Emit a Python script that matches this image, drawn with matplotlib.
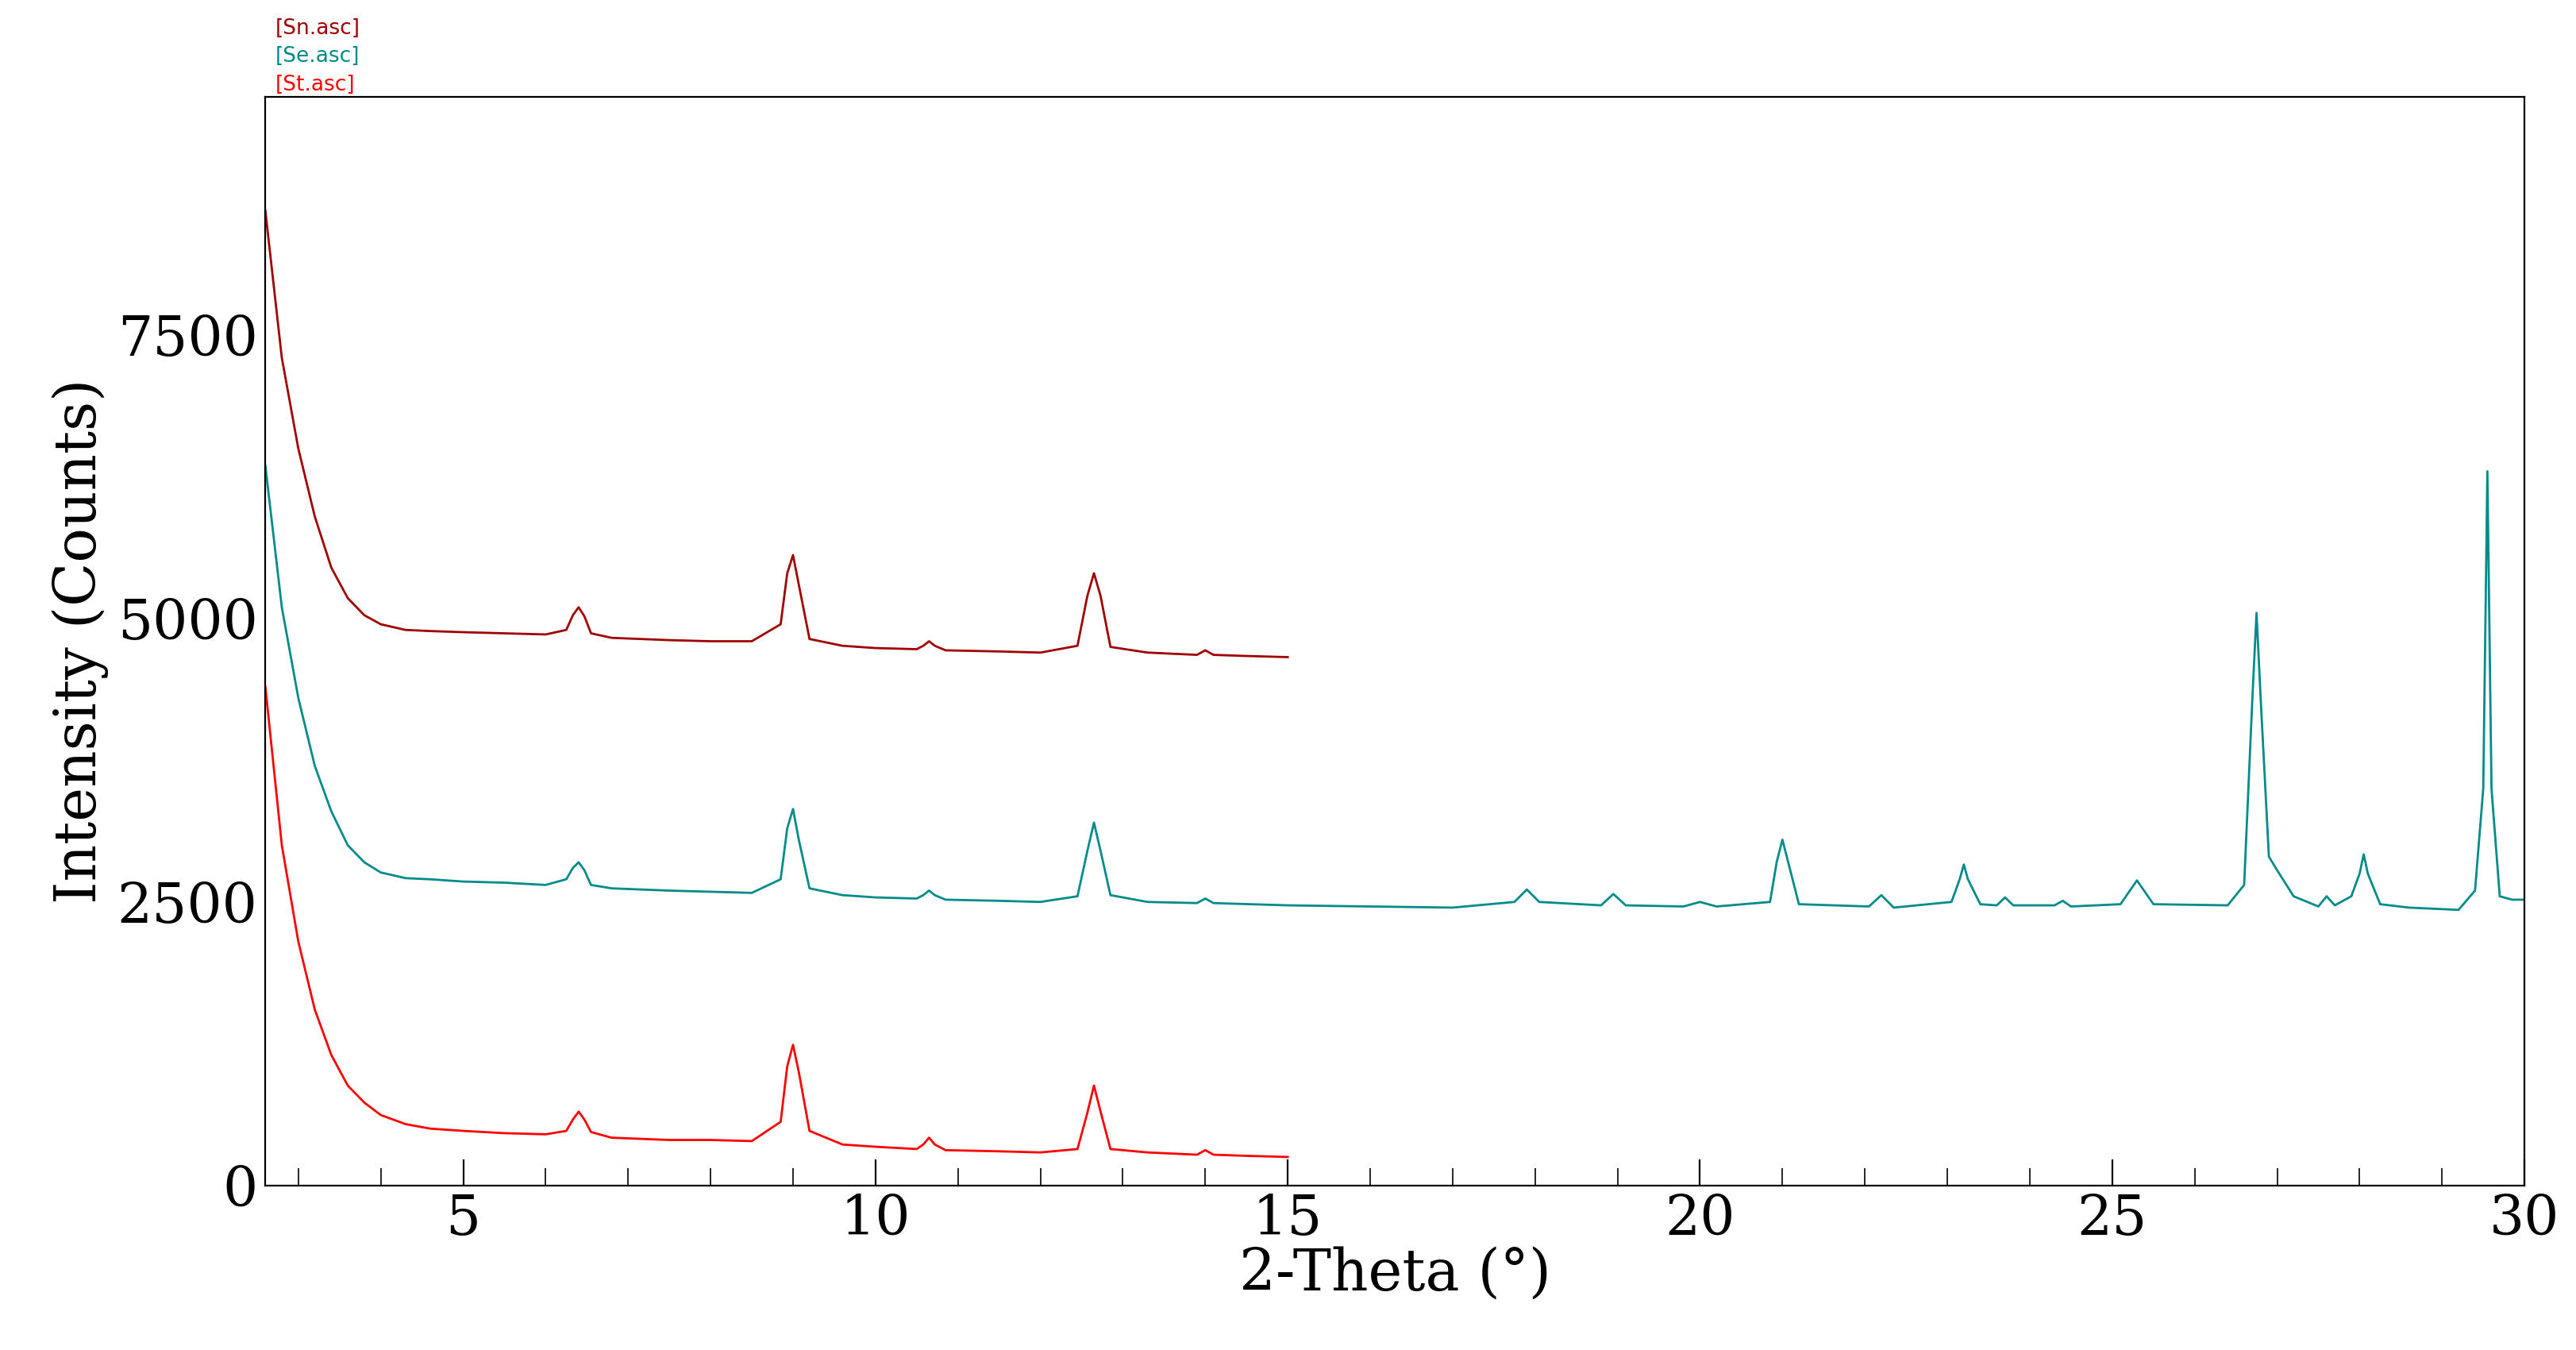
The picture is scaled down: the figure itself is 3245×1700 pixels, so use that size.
import matplotlib
matplotlib.use("Agg")
import matplotlib.pyplot as plt

# St.asc (red)
st_x = [2.6,2.8,3.0,3.2,3.4,3.6,3.8,4.0,4.3,4.6,5.0,5.5,6.0,6.25,6.33,6.4,6.47,6.55,6.8,7.5,8.0,8.5,8.85,8.93,9.0,9.07,9.2,9.6,10.0,10.5,10.58,10.65,10.72,10.85,11.5,12.0,12.45,12.57,12.65,12.73,12.85,13.3,13.9,14.0,14.1,14.5,15.0]
st_y = [4400,3000,2150,1550,1150,880,730,620,540,500,480,460,450,480,580,650,580,470,420,400,400,390,560,1050,1240,1000,480,360,340,320,360,420,360,310,300,290,320,640,880,650,320,290,270,310,270,260,250]

# Se.asc (teal)
se_x = [2.6,2.8,3.0,3.2,3.4,3.6,3.8,4.0,4.3,4.6,5.0,5.5,6.0,6.25,6.33,6.4,6.47,6.55,6.8,7.5,8.0,8.5,8.85,8.93,9.0,9.07,9.2,9.6,10.0,10.5,10.58,10.65,10.72,10.85,11.5,12.0,12.45,12.57,12.65,12.73,12.85,13.3,13.9,14.0,14.1,15.0,16.0,17.0,17.75,17.9,18.05,18.8,18.95,19.1,19.8,20.0,20.2,20.85,20.93,21.0,21.07,21.2,22.05,22.2,22.35,23.05,23.15,23.2,23.25,23.4,23.6,23.7,23.8,24.3,24.4,24.5,25.1,25.3,25.5,26.4,26.6,26.7,26.75,26.8,26.9,27.0,27.2,27.5,27.6,27.7,27.9,28.0,28.05,28.1,28.25,28.6,29.2,29.4,29.5,29.55,29.6,29.7,29.85,30.1]
se_y = [6350,5100,4300,3700,3300,3000,2850,2760,2710,2700,2680,2670,2650,2700,2800,2850,2780,2650,2620,2600,2590,2580,2700,3150,3320,3050,2620,2560,2540,2530,2560,2600,2560,2520,2510,2500,2550,2950,3200,2950,2560,2500,2490,2530,2490,2470,2460,2450,2500,2610,2500,2470,2570,2470,2460,2500,2460,2500,2850,3050,2850,2480,2460,2560,2450,2500,2700,2830,2700,2480,2470,2540,2470,2470,2510,2460,2480,2690,2480,2470,2650,4300,5050,4300,2900,2780,2550,2460,2550,2470,2550,2750,2920,2750,2480,2450,2430,2600,3500,6300,3500,2550,2520,2520]

# Sn.asc (dark red)
sn_x = [2.6,2.8,3.0,3.2,3.4,3.6,3.8,4.0,4.3,4.6,5.0,5.5,6.0,6.25,6.33,6.4,6.47,6.55,6.8,7.5,8.0,8.5,8.85,8.93,9.0,9.07,9.2,9.6,10.0,10.5,10.58,10.65,10.72,10.85,11.5,12.0,12.45,12.57,12.65,12.73,12.85,13.3,13.9,14.0,14.1,14.5,15.0]
sn_y = [8600,7300,6500,5900,5450,5180,5030,4950,4900,4890,4880,4870,4860,4900,5030,5100,5020,4870,4830,4810,4800,4800,4950,5400,5560,5300,4820,4760,4740,4730,4760,4800,4760,4720,4710,4700,4760,5200,5400,5200,4750,4700,4680,4720,4680,4670,4660]

xticks = [5, 10, 15, 20, 25, 30]
yticks = [0, 2500, 5000, 7500]
legend_labels = ["[Sn.asc]", "[Se.asc]", "[St.asc]"]
legend_colors = ["#a00000", "#008b8b", "#ff0000"]

fig = plt.figure(figsize=(16.225, 8.5), dpi=200)
ax = fig.add_axes([0.103, 0.122, 0.877, 0.806])
ax.plot(st_x, st_y, color="#ff0000", lw=1.0)
ax.plot(se_x, se_y, color="#008b8b", lw=1.0)
ax.plot(sn_x, sn_y, color="#a00000", lw=1.0)
ax.set_xlim(2.6, 30.0)
ax.set_ylim(0, 9600)
ax.set_xticks(xticks)
ax.set_xticks([x for x in range(3, 31)], minor=True)
ax.set_yticks(yticks)
ax.tick_params(axis="x", which="both", direction="in", top=False, length=8)
ax.tick_params(axis="x", which="major", length=12)
ax.tick_params(axis="y", direction="in", right=False, length=0)
for lab in ax.get_xticklabels() + ax.get_yticklabels():
    lab.set_fontfamily("DejaVu Serif")
    lab.set_fontsize(25)
ax.set_xlabel("2-Theta (°)", fontfamily="DejaVu Serif", fontsize=26, labelpad=0)
ax.set_ylabel("Intensity (Counts)", fontfamily="DejaVu Serif", fontsize=26, labelpad=4)
for i, (t, c) in enumerate(zip(legend_labels, legend_colors)):
    fig.text(0.107, 0.979 - i * 0.021, t, color=c, fontsize=9.5, va="center", fontfamily="DejaVu Sans")
fig.savefig("out.png", dpi=200)
